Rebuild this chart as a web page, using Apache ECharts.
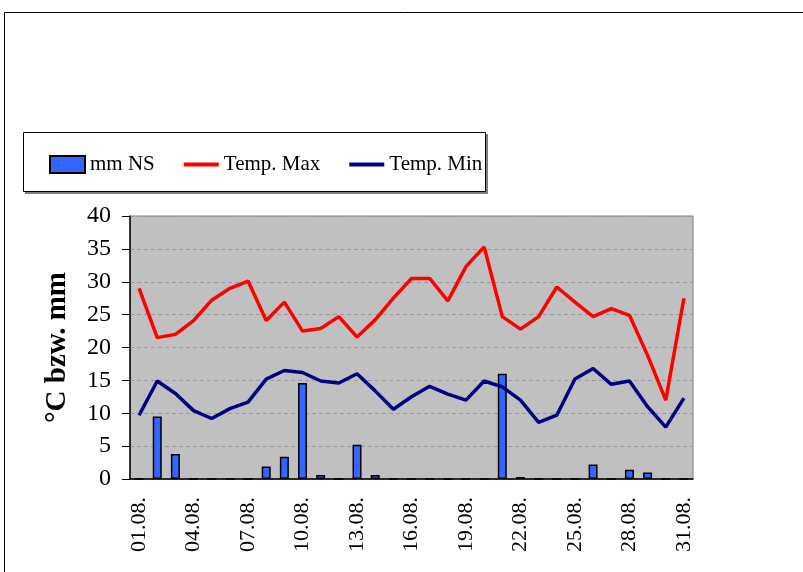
<!DOCTYPE html>
<html>
<head>
<meta charset="utf-8">
<script src="https://cdn.jsdelivr.net/npm/echarts@6/dist/echarts.min.js"></script>
<style>
html,body{margin:0;padding:0;background:#fff;}
#c{width:803px;height:572px;}
</style>
</head>
<body>
<div id="c"></div>
<script>
const categories = ["01.08.","02.08.","03.08.","04.08.","05.08.","06.08.","07.08.","08.08.","09.08.","10.08.","11.08.","12.08.","13.08.","14.08.","15.08.","16.08.","17.08.","18.08.","19.08.","20.08.","21.08.","22.08.","23.08.","24.08.","25.08.","26.08.","27.08.","28.08.","29.08.","30.08.","31.08."];
const rainMm = [0,9.5,3.8,0,0,0,0,1.9,3.4,14.6,0.6,0,5.2,0.6,0,0,0,0,0,0,16.0,0.3,0,0,0,2.2,0,1.4,1.0,0,0];
const tempMax = [29.0,21.5,22.0,24.1,27.2,29.0,30.1,24.1,26.9,22.5,22.9,24.7,21.6,24.2,27.5,30.5,30.5,27.1,32.3,35.3,24.7,22.8,24.7,29.2,26.9,24.7,25.9,24.9,18.8,12.0,27.5];
const tempMin = [9.7,14.9,13.0,10.4,9.2,10.7,11.7,15.2,16.5,16.2,14.9,14.6,16.0,13.4,10.6,12.5,14.1,12.9,12.0,14.9,14.0,12.0,8.6,9.7,15.2,16.8,14.4,14.9,11.0,7.9,12.3];
const yTicks = {min:0, max:40, interval:5};
const seriesNames = ["mm NS","Temp. Max","Temp. Min"];

const FONT = "'Liberation Serif', 'Times New Roman', serif";
const LINE_ICON = 'path://M0,0L0.05,0L0.05,0.05L0,0.05Z M0,6.5L35,6.5L35,10.5L0,10.5Z M0,17L0.05,17L0.05,16.95L0,16.95Z';
const chart = echarts.init(document.getElementById('c'), null, {renderer:'canvas'});
chart.setOption({
  animation:false,
  backgroundColor:'#ffffff',
  graphic:[
    {type:'rect', shape:{x:4.5,y:12.5,width:1000,height:1000}, style:{fill:'none',stroke:'#000',lineWidth:1}, z:-10},
    {type:'rect', shape:{x:25,y:134,width:463,height:60}, style:{fill:'#808080'}, z:-9},
    {type:'rect', shape:{x:23.5,y:132.5,width:462,height:59}, style:{fill:'#fff',stroke:'#000',lineWidth:1}, z:-8}
  ],
  legend:{
    left:49, top:154, padding:0,
    itemWidth:35, itemHeight:17, itemGap:29,
    textStyle:{fontFamily:FONT, fontSize:21, color:'#000'},
    data:[
      {name:seriesNames[0], icon:'rect'},
      {name:seriesNames[1], icon:LINE_ICON, itemStyle:{color:'#ff0000', borderWidth:0}},
      {name:seriesNames[2], icon:LINE_ICON, itemStyle:{color:'#000080', borderWidth:0}}
    ]
  },
  grid:{left:130, right:110, top:216, bottom:93, show:true, backgroundColor:'#c0c0c0', borderColor:'#808080', borderWidth:1},
  xAxis:{
    type:'category', data:categories, boundaryGap:true,
    axisLine:{lineStyle:{color:'#000', width:1.5}},
    axisTick:{interval:0, length:6, lineStyle:{color:'#000'}},
    axisLabel:{interval:2, rotate:90, margin:18, fontFamily:FONT, fontSize:22, color:'#000'},
    splitLine:{show:false}
  },
  yAxis:{
    type:'value', min:yTicks.min, max:yTicks.max, interval:yTicks.interval,
    name:'°C bzw. mm', nameLocation:'middle', nameGap:58, nameRotate:90,
    nameTextStyle:{fontFamily:FONT, fontSize:29, fontWeight:'bold', color:'#000'},
    axisLine:{show:true, lineStyle:{color:'#000', width:1.5}},
    axisTick:{show:true, length:8, lineStyle:{color:'#000'}},
    axisLabel:{margin:19, fontFamily:FONT, fontSize:24, color:'#000'},
    splitLine:{show:true, lineStyle:{color:'#9a9a9a', type:[4,3], width:1}}
  },
  series:[
    {name:seriesNames[0], type:'bar', data:rainMm, barWidth:9,
     itemStyle:{color:'#3366ff', borderColor:'#000', borderWidth:1.5}},
    {name:seriesNames[1], type:'line', data:tempMax, symbol:'none',
     lineStyle:{color:'#ff0000', width:3.5}, itemStyle:{color:'#ff0000'}},
    {name:seriesNames[2], type:'line', data:tempMin, symbol:'none',
     lineStyle:{color:'#000080', width:3.5}, itemStyle:{color:'#000080'}}
  ]
});
</script>
</body>
</html>
